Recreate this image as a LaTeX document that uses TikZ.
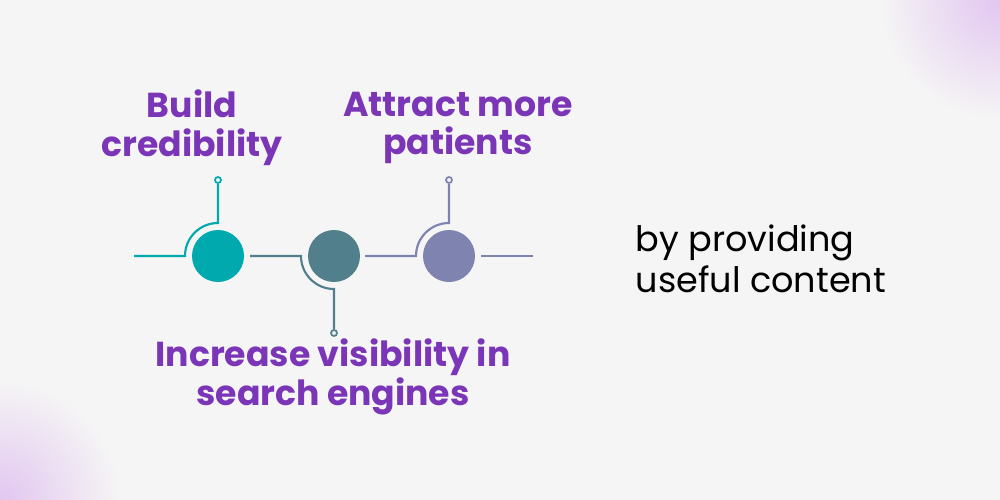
\documentclass[tikz,border=0pt]{standalone}
\usepackage{fontspec}
\setmainfont{Poppins}
\definecolor{bgc}{HTML}{F5F5F5}
\definecolor{tealc}{HTML}{00A9AD}
\definecolor{slatec}{HTML}{517F8C}
\definecolor{lilac}{HTML}{7E83B0}
\definecolor{purp}{HTML}{7B36B8}
\definecolor{glow}{HTML}{E2C6F0}
\begin{document}
\begin{tikzpicture}[x=0.75pt,y=0.75pt,yscale=-1,xscale=1,
  dot/.style={circle,minimum size=52pt*0.75,inner sep=0pt},
  pin/.style={circle,draw,line width=1.3pt,fill=bgc,minimum size=4.5pt,inner sep=0pt},
  wire/.style={line width=1.6pt},
  head/.style={font=\fontsize{26}{29}\selectfont\bfseries,text=purp,align=center},
  note/.style={font=\fontsize{26.3}{31}\selectfont,align=left,anchor=west}]
%background
\fill [bgc] (0,0) rectangle (1000,500);
\useasboundingbox (0,0) rectangle (1000,500);
\begin{scope}
\clip (0,0) rectangle (1000,500);
\shade [inner color=glow,outer color=bgc] (0,500) circle (120);
\shade [inner color=glow,outer color=bgc] (1000,0) circle (120);
\end{scope}

% Circles
\node [dot,fill=tealc] (c1) at (218,256) {};
\node [dot,fill=slatec] (c2) at (334,256) {};
\node [dot,fill=lilac] (c3) at (449,256) {};
% Pins
\node [pin,draw=tealc] (p1) at (218,180) {};
\node [pin,draw=slatec] (p2) at (334,333) {};
\node [pin,draw=lilac] (p3) at (449,180) {};
\coordinate (s1) at (134,256);
\coordinate (e3) at (533,256);

% Wires
\draw [wire,tealc] (s1) -- (185,256) arc (180:270:33) -- (p1);
\draw [wire,slatec] (250,256) -- (301,256) arc (180:90:33) -- (p2);
\draw [wire,lilac] (365,256) -- (416,256) arc (180:270:33) -- (p3);
\draw [wire,lilac] (481,256) -- (e3);

% Text Node
\node [head] (t1) at (192,128) {Build\\credibility};
% Text Node
\node [head] (t3) at (458,128) {Attract more\\patients};
% Text Node
\node [head] (t2) at (333,377) {Increase visibility in\\search engines};
% Text Node
\node [note] (t4) at (631,259) {by providing\\useful content};
\end{tikzpicture}
\end{document}
